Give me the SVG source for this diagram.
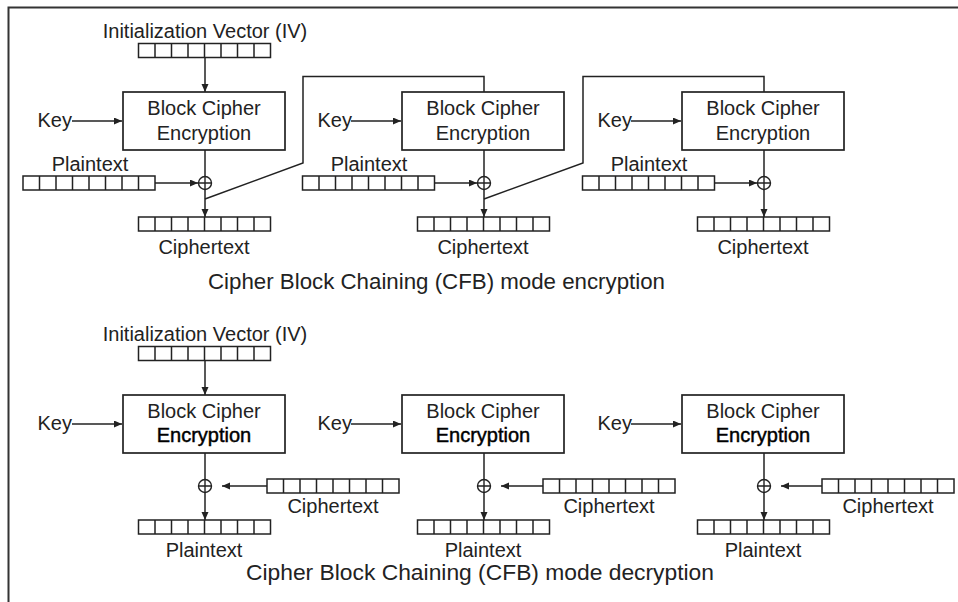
<svg xmlns="http://www.w3.org/2000/svg" xmlns:xlink="http://www.w3.org/1999/xlink" width="958" height="602" viewBox="0 0 958 602">
<style>
text{font-family:"Liberation Sans",Arial,sans-serif;font-size:20px;fill:#222}
.c{text-anchor:middle}
.e{text-anchor:end}
.cap{font-size:22px}
.b{fill:#000;stroke:#000;stroke-width:0.45}
.box{fill:#fff;stroke:#222;stroke-width:1.7}
.ln{fill:none;stroke:#222;stroke-width:1.5}
.ar{fill:none;stroke:#222;stroke-width:1.5;marker-end:url(#ah)}
.cell{fill:#fff;stroke:#222;stroke-width:1.5}
</style>
<defs>
<marker id="ah" markerUnits="userSpaceOnUse" markerWidth="9" markerHeight="8" refX="8" refY="3.5" orient="auto">
<path d="M0,0 L8,3.5 L0,7 z" fill="#222"/>
</marker>
<g id="bar">
<rect class="cell" x="0" y="0" width="132" height="14"/>
<path class="ln" d="M16.5,0v14M33,0v14M49.5,0v14M66,0v14M82.5,0v14M99,0v14M115.5,0v14"/>
</g>
<g id="xor">
<circle cx="0" cy="0" r="6.5" fill="#fff" stroke="#222" stroke-width="1.4"/>
<path d="M-6.5,0H6.5M0,-6.5V6.5" stroke="#222" stroke-width="1.4"/>
</g>
</defs>
<rect width="958" height="602" fill="#fff"/>
<path id="frame" d="M8.5,602V7.5H958" fill="none" stroke="#333" stroke-width="2"/>

<g id="connectors">
<path class="ar" d="M205,58V92"/>
<path class="ar" d="M72,121H122"/>
<path class="ar" d="M351,121H401"/>
<path class="ar" d="M631,121H681"/>
<path class="ar" d="M155,183H198"/>
<path class="ar" d="M434,183H477"/>
<path class="ar" d="M714,183H757"/>
<path class="ar" d="M205,150V217"/>
<path class="ar" d="M484,150V217"/>
<path class="ar" d="M764,150V217"/>
<path class="ln" d="M205,199L303,163V76.5H484V92"/>
<path class="ln" d="M484,199L583,163V76.5H764V92"/>
<path class="ar" d="M205,361V395"/>
<path class="ar" d="M72,424H122"/>
<path class="ar" d="M351,424H401"/>
<path class="ar" d="M631,424H681"/>
<path class="ar" d="M205,453V520"/>
<path class="ar" d="M484,453V520"/>
<path class="ar" d="M764,453V520"/>
<path class="ar" d="M267,486H222"/>
<path class="ar" d="M543,486H501"/>
<path class="ar" d="M822,486H781"/>
</g>

<g id="enc-iv">
<text class="c" x="205" y="38">Initialization Vector (IV)</text>
<use xlink:href="#bar" x="138.5" y="43.5"/>
</g>
<g id="enc-1">
<rect class="box" x="123" y="92" width="162" height="58"/>
<text class="c" x="204" y="115">Block Cipher</text>
<text class="c" x="204" y="140">Encryption</text>
<text class="e" x="72" y="127">Key</text>
<text class="c" x="90" y="171">Plaintext</text>
<use xlink:href="#bar" x="23" y="176"/>
<use xlink:href="#xor" x="205" y="183"/>
<use xlink:href="#bar" x="138.5" y="217"/>
<text class="c" x="204" y="254">Ciphertext</text>
</g>
<g id="enc-2">
<rect class="box" x="402" y="92" width="162" height="58"/>
<text class="c" x="483" y="115">Block Cipher</text>
<text class="c" x="483" y="140">Encryption</text>
<text class="e" x="352" y="127">Key</text>
<text class="c" x="369" y="171">Plaintext</text>
<use xlink:href="#bar" x="302.5" y="176"/>
<use xlink:href="#xor" x="484" y="183"/>
<use xlink:href="#bar" x="417.5" y="217"/>
<text class="c" x="483" y="254">Ciphertext</text>
</g>
<g id="enc-3">
<rect class="box" x="682" y="92" width="162" height="58"/>
<text class="c" x="763" y="115">Block Cipher</text>
<text class="c" x="763" y="140">Encryption</text>
<text class="e" x="632" y="127">Key</text>
<text class="c" x="649" y="171">Plaintext</text>
<use xlink:href="#bar" x="582.5" y="176"/>
<use xlink:href="#xor" x="764" y="183"/>
<use xlink:href="#bar" x="697.5" y="217"/>
<text class="c" x="763" y="254">Ciphertext</text>
</g>
<text class="cap" x="208" y="289" textLength="457" lengthAdjust="spacingAndGlyphs">Cipher Block Chaining (CFB) mode encryption</text>

<g id="dec-iv">
<text class="c" x="205" y="341">Initialization Vector (IV)</text>
<use xlink:href="#bar" x="138.5" y="346.5"/>
</g>
<g id="dec-1">
<rect class="box" x="123" y="395" width="162" height="58"/>
<text class="c" x="204" y="418">Block Cipher</text>
<text class="c b" x="204" y="442">Encryption</text>
<text class="e" x="72" y="430">Key</text>
<use xlink:href="#xor" x="205" y="486"/>
<use xlink:href="#bar" x="267" y="479"/>
<text class="c" x="333" y="513">Ciphertext</text>
<use xlink:href="#bar" x="138.5" y="520"/>
<text class="c" x="204" y="557">Plaintext</text>
</g>
<g id="dec-2">
<rect class="box" x="402" y="395" width="162" height="58"/>
<text class="c" x="483" y="418">Block Cipher</text>
<text class="c b" x="483" y="442">Encryption</text>
<text class="e" x="352" y="430">Key</text>
<use xlink:href="#xor" x="484" y="486"/>
<use xlink:href="#bar" x="543" y="479"/>
<text class="c" x="609" y="513">Ciphertext</text>
<use xlink:href="#bar" x="417.5" y="520"/>
<text class="c" x="483" y="557">Plaintext</text>
</g>
<g id="dec-3">
<rect class="box" x="682" y="395" width="162" height="58"/>
<text class="c" x="763" y="418">Block Cipher</text>
<text class="c b" x="763" y="442">Encryption</text>
<text class="e" x="632" y="430">Key</text>
<use xlink:href="#xor" x="764" y="486"/>
<use xlink:href="#bar" x="822" y="479"/>
<text class="c" x="888" y="513">Ciphertext</text>
<use xlink:href="#bar" x="697.5" y="520"/>
<text class="c" x="763" y="557">Plaintext</text>
</g>
<text class="cap" x="246" y="580" textLength="468" lengthAdjust="spacingAndGlyphs">Cipher Block Chaining (CFB) mode decryption</text>
</svg>
